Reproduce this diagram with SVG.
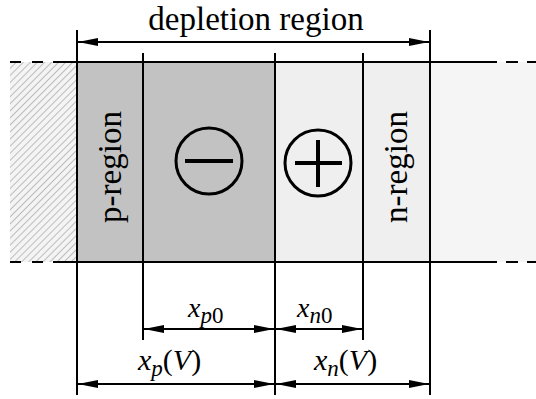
<svg xmlns="http://www.w3.org/2000/svg" width="536" height="399" viewBox="0 0 536 399">
<style>
.ln{stroke:#000;stroke-width:2;fill:none}
.arr{stroke:#000;stroke-width:2;fill:none;marker-start:url(#ah);marker-end:url(#ah)}
.t{font-family:"Liberation Serif","Times New Roman",serif;fill:#000}
.m{font-family:"Liberation Serif","Times New Roman",serif;font-style:italic;fill:#000}
.up{font-style:normal}
</style>
<defs>
<marker id="ah" viewBox="0 0 20 10" refX="20" refY="5" markerWidth="20" markerHeight="10" markerUnits="userSpaceOnUse" orient="auto-start-reverse">
<path d="M0,1 L20,5 L0,9 z" fill="#000"/>
</marker>
<pattern id="hatch" width="5" height="5" patternUnits="userSpaceOnUse" patternTransform="rotate(45)">
<rect width="5" height="5" fill="#f4f4f4"/>
<line x1="0" y1="0" x2="0" y2="5" stroke="#aaaaaa" stroke-width="1.5"/>
</pattern>
</defs>
<g id="regions">
<rect id="left-bulk" x="10" y="62" width="67" height="200" fill="url(#hatch)"/>
<rect id="p-side" x="77" y="62" width="198" height="200" fill="#c2c2c2"/>
<rect id="n-side" x="275" y="62" width="155" height="200" fill="#efefef"/>
<rect id="right-bulk" x="430" y="62" width="106" height="200" fill="#f5f5f5"/>
</g>
<g id="boundaries">
<line class="ln" x1="53" y1="62" x2="497" y2="62"/>
<line class="ln" x1="53" y1="262" x2="497" y2="262"/>
<path class="ln" d="M10,62 H21 M32,62 H43 M506,62 H518 M527,62 H536 M10,262 H21 M32,262 H43 M506,262 H518 M527,262 H536"/>
<line class="ln" x1="77" y1="30" x2="77" y2="395"/>
<line class="ln" x1="430" y1="30" x2="430" y2="395"/>
<line class="ln" x1="275" y1="53" x2="275" y2="395"/>
<line class="ln" x1="143" y1="53" x2="143" y2="340"/>
<line class="ln" x1="363" y1="53" x2="363" y2="340"/>
</g>
<g id="p-region">
<text class="t" font-size="33" text-anchor="middle" transform="translate(121,167) rotate(-90)">p-region</text>
</g>
<g id="n-region">
<text class="t" font-size="33" text-anchor="middle" transform="translate(407,167) rotate(-90)">n-region</text>
</g>
<g id="minus-charge">
<circle cx="209" cy="161" r="33" stroke="#000" stroke-width="3" fill="none"/>
<line x1="185" y1="161" x2="233" y2="161" stroke="#000" stroke-width="4"/>
</g>
<g id="plus-charge">
<circle cx="318" cy="163" r="33" stroke="#000" stroke-width="3" fill="none"/>
<line x1="295" y1="163" x2="342" y2="163" stroke="#000" stroke-width="4"/>
<line x1="318" y1="140" x2="318" y2="187" stroke="#000" stroke-width="4"/>
</g>
<g id="connectors">
<line class="arr" x1="78" y1="42" x2="429" y2="42"/>
<line class="arr" x1="144" y1="329" x2="274" y2="329"/>
<line class="arr" x1="276" y1="329" x2="362" y2="329"/>
<line class="arr" x1="78" y1="384" x2="274" y2="384"/>
<line class="arr" x1="276" y1="384" x2="429" y2="384"/>
</g>
<g id="labels">
<text class="t" x="256" y="30" font-size="33" text-anchor="middle">depletion region</text>
<text class="m" x="188" y="317" font-size="28">x<tspan font-size="23" dy="6">p</tspan><tspan class="up" font-size="23">0</tspan></text>
<text class="m" x="297" y="317" font-size="28">x<tspan font-size="23" dy="6">n</tspan><tspan class="up" font-size="23">0</tspan></text>
<text class="m" x="138" y="370" font-size="30">x<tspan font-size="23" dy="6">p</tspan><tspan class="up" dy="-6">(</tspan>V<tspan class="up">)</tspan></text>
<text class="m" x="314" y="370" font-size="30">x<tspan font-size="23" dy="6">n</tspan><tspan class="up" dy="-6">(</tspan>V<tspan class="up">)</tspan></text>
</g>
</svg>
